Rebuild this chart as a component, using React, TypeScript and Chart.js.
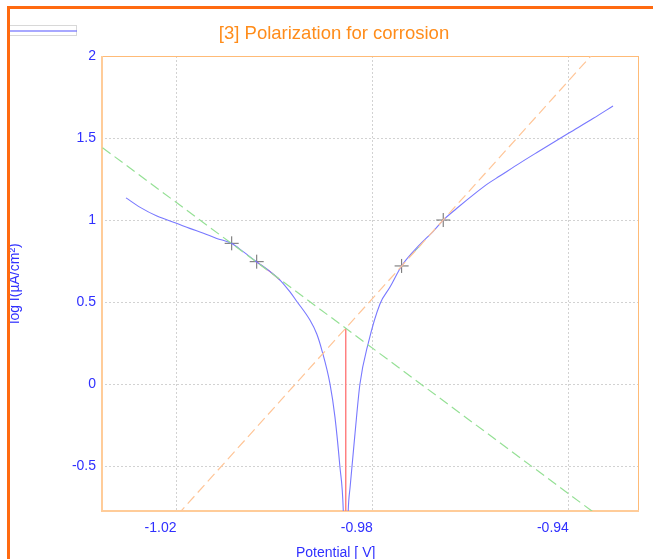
import React, { useEffect, useRef } from "react";
import { Chart, registerables } from "chart.js";

Chart.register(...registerables);

// ---- data ----
const chartTitle = "[3] Polarization for corrosion";
const xAxisTitle = "Potential [ V]";
const yAxisTitle = "log I(µA/cm²)";

const xTicks = [-1.02, -0.98, -0.94];
const yTicks = [-0.5, 0, 0.5, 1, 1.5, 2];
const xMin = -1.0354;
const xMax = -0.9257;
const yMin = -0.774;
const yMax = 2;

// measured polarization curve (potential V, log current density)
const curveE = [
  -1.0303, -1.0274, -1.024, -1.02, -1.0173, -1.0145, -1.0118, -1.0088, -1.0064, -1.0037,
  -1.0009, -0.9989, -0.9969, -0.9955, -0.9928, -0.9914, -0.9904, -0.9887, -0.9877,
  -0.9867, -0.986, -0.9855, -0.985, -0.9846, -0.9836, -0.9826, -0.9809, -0.9785, -0.9765,
  -0.9741, -0.9704, -0.9677, -0.9656, -0.9629, -0.9588, -0.9565, -0.9541, -0.95, -0.9466,
  -0.94, -0.935, -0.931,
];
const curveLogI = [
  1.135, 1.077, 1.024, 0.98, 0.949, 0.919, 0.888, 0.858, 0.807, 0.746,
  0.685, 0.634, 0.563, 0.505, 0.39, 0.305, 0.21, 0.0, -0.2,
  -0.5, -0.77, -1.4, -0.78, -0.626, -0.3, 0.0, 0.25, 0.49, 0.59,
  0.72, 0.85, 0.93, 1.0, 1.07, 1.17, 1.222, 1.268, 1.347, 1.41,
  1.53, 1.62, 1.695,
];

// Tafel fit points (crosses)
const markerE = [-1.00875, -1.00365, -0.9741, -0.96562];
const markerLogI = [0.858, 0.746, 0.72, 1.0];

// fitted segments on the curve
const fitLeftE = [-1.0037, -1.0009, -0.9989];
const fitLeftLogI = [0.746, 0.685, 0.634];
const fitRightE = [-0.9725, -0.97];
const fitRightLogI = [0.776, 0.852];

// Tafel lines (extended, clipped by the plot area)
const cathodicE = [-1.04, -0.92];
const cathodicLogI = [1.55, -1.114];
const anodicE = [-1.03, -0.93];
const anodicLogI = [-1.137, 2.183];

// corrosion potential marker
const ecorrE = [-0.9855, -0.9855];
const ecorrLogI = [-0.8, 0.34];

const FONT = '"Liberation Sans", Arial, Helvetica, sans-serif';
const BLUE_TEXT = "#3030ff";

const zip = (xs: number[], ys: number[]) => xs.map((x, i) => ({ x, y: ys[i] }));

const overlayPlugin = {
  id: "overlay",
  beforeDatasetsDraw(chart: any) {
    const { ctx, chartArea } = chart;
    const { left, top, right, bottom } = chartArea;
    ctx.save();
    ctx.strokeStyle = "#ffbb77";
    ctx.lineWidth = 1;
    ctx.beginPath();
    ctx.moveTo(left, top + 0.5);
    ctx.lineTo(right, top + 0.5);
    ctx.moveTo(right - 0.5, top);
    ctx.lineTo(right - 0.5, bottom);
    ctx.stroke();
    ctx.strokeStyle = "#ffcc99";
    ctx.lineWidth = 2;
    ctx.beginPath();
    ctx.moveTo(left + 1, top);
    ctx.lineTo(left + 1, bottom + 1);
    ctx.moveTo(left, bottom);
    ctx.lineTo(right, bottom);
    ctx.stroke();
    ctx.restore();
  },
  afterDraw(chart: any) {
    const { ctx } = chart;
    ctx.save();
    // title
    ctx.font = `18.5px ${FONT}`;
    ctx.fillStyle = "#ff8c1a";
    ctx.textAlign = "center";
    ctx.textBaseline = "alphabetic";
    ctx.fillText(chartTitle, 334, 38.5);
    // x axis title
    ctx.font = `14px ${FONT}`;
    ctx.fillStyle = BLUE_TEXT;
    ctx.textAlign = "left";
    ctx.fillText(xAxisTitle, 296, 557);
    // legend stub
    ctx.fillStyle = "#ffffff";
    ctx.fillRect(7.5, 25.5, 69, 10);
    ctx.strokeStyle = "#d8d8d8";
    ctx.lineWidth = 1;
    ctx.strokeRect(7.5, 25.5, 69, 10);
    ctx.strokeStyle = "rgba(110,110,255,0.6)";
    ctx.lineWidth = 2;
    ctx.beginPath();
    ctx.moveTo(8, 31);
    ctx.lineTo(77, 31);
    ctx.stroke();
    ctx.restore();
  },
};

export default function App() {
  const canvasRef = useRef<HTMLCanvasElement | null>(null);

  useEffect(() => {
    const canvas = canvasRef.current;
    if (!canvas) return;
    const chart = new Chart(canvas, {
      type: "scatter",
      data: {
        datasets: [
          {
            label: "cathodic",
            data: zip(cathodicE, cathodicLogI),
            showLine: true,
            borderColor: "#95e095",
            borderWidth: 1.2,
            borderDash: [10, 5],
            pointRadius: 0,
          },
          {
            label: "anodic",
            data: zip(anodicE, anodicLogI),
            showLine: true,
            borderColor: "#ffc597",
            borderWidth: 1.2,
            borderDash: [10, 5],
            pointRadius: 0,
          },
          {
            label: "Ecorr",
            data: zip(ecorrE, ecorrLogI),
            showLine: true,
            borderColor: "#ff8080",
            borderWidth: 1.5,
            pointRadius: 0,
          },
          {
            label: "curve",
            data: zip(curveE, curveLogI),
            showLine: true,
            borderColor: "#7878ff",
            borderWidth: 1.1,
            cubicInterpolationMode: "monotone",
            pointRadius: 0,
          },
          {
            label: "fitLeft",
            data: zip(fitLeftE, fitLeftLogI),
            showLine: true,
            borderColor: "rgba(255,120,110,0.85)",
            borderWidth: 1.2,
            pointRadius: 0,
          },
          {
            label: "fitRight",
            data: zip(fitRightE, fitRightLogI),
            showLine: true,
            borderColor: "rgba(110,170,110,0.7)",
            borderWidth: 1,
            pointRadius: 0,
          },
          {
            label: "markers",
            data: zip(markerE, markerLogI),
            showLine: false,
            pointStyle: "cross",
            pointRadius: 7,
            pointBorderWidth: 1,
            pointBorderColor: "rgba(70,70,70,0.8)",
            borderColor: "rgba(70,70,70,0.8)",
          },
        ],
      },
      options: {
        responsive: false,
        maintainAspectRatio: false,
        animation: false,
        events: [],
        layout: { padding: { left: 0, top: 56, right: 14, bottom: 0 } },
        plugins: {
          legend: { display: false },
          title: { display: false },
          tooltip: { enabled: false },
        },
        scales: {
          x: {
            type: "linear",
            min: xMin,
            max: xMax,
            afterFit: (s: any) => {
              s.height = 48;
            },
            afterBuildTicks: (s: any) => {
              s.ticks = xTicks.map((v) => ({ value: v }));
            },
            ticks: {
              align: "end",
              padding: 9,
              color: BLUE_TEXT,
              font: { size: 14, family: FONT },
              callback: (v: any) => String(v),
            },
            grid: { color: "#d2d2d2", lineWidth: 1, drawTicks: false },
            border: { display: false, dash: [2, 2] },
          },
          y: {
            type: "linear",
            min: yMin,
            max: yMax,
            afterFit: (s: any) => {
              s.width = 101;
            },
            afterBuildTicks: (s: any) => {
              s.ticks = yTicks.map((v) => ({ value: v }));
            },
            ticks: {
              padding: 5,
              color: BLUE_TEXT,
              font: { size: 14, family: FONT },
              callback: (v: any) => String(v),
            },
            grid: { color: "#d2d2d2", lineWidth: 1, drawTicks: false },
            border: { display: false, dash: [2, 2] },
            title: {
              display: true,
              text: yAxisTitle,
              color: BLUE_TEXT,
              font: { size: 14, family: FONT, lineHeight: 1 },
              padding: { top: 8, bottom: 0 },
            },
          },
        },
      },
      plugins: [overlayPlugin],
    } as any);
    return () => chart.destroy();
  }, []);

  return (
    <div
      style={{
        position: "fixed",
        left: 0,
        top: 0,
        width: 653,
        height: 559,
        overflow: "hidden",
        background: "#ffffff",
      }}
    >
      <canvas
        ref={canvasRef}
        width={653}
        height={559}
        style={{ position: "absolute", left: 0, top: 0 }}
      />
      <div
        style={{
          position: "absolute",
          left: 7,
          top: 6,
          width: 700,
          height: 700,
          borderLeft: "3px solid #ff6a10",
          borderTop: "3px solid #ff6a10",
          pointerEvents: "none",
        }}
      />
    </div>
  );
}
